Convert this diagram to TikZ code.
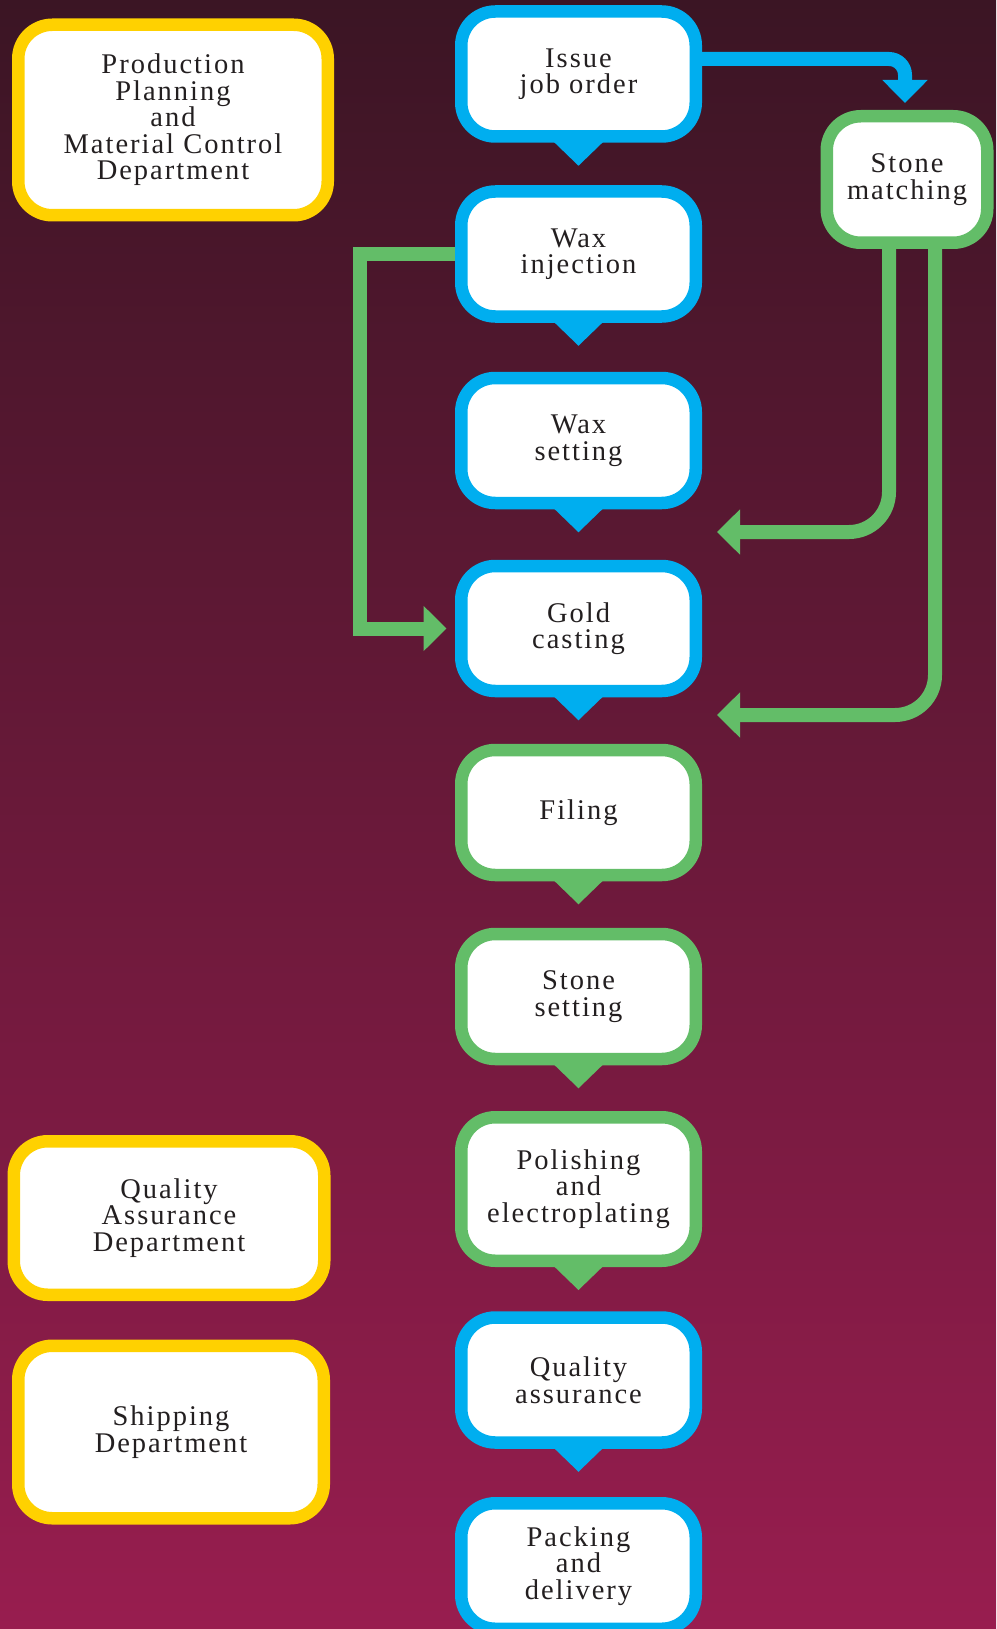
\documentclass[tikz,border=0pt]{standalone}
\usepackage{fontspec}
\setmainfont{Liberation Serif}[LetterSpace=7]
\usetikzlibrary{calc,arrows.meta}
\definecolor{bgtop}{RGB}{59,21,36}
\definecolor{bgbottom}{RGB}{152,29,79}
\definecolor{stepblue}{RGB}{0,174,239}
\definecolor{stepgreen}{RGB}{99,189,104}
\definecolor{deptyellow}{RGB}{255,209,0}
\definecolor{inkgray}{RGB}{35,31,32}

\tikzset{
  stepbox/.style={draw, fill=white, line width=12.5pt, rounded corners=34pt,
    minimum width=234.5pt, minimum height=125pt, inner sep=0pt, align=center,
    text=inkgray, font=\fontsize{28.5}{26.5}\selectfont},
  bluestep/.style={stepbox, draw=stepblue},
  greenstep/.style={stepbox, draw=stepgreen},
  deptbox/.style={stepbox, draw=deptyellow},
  flowline/.style={line width=14pt, -{Triangle[width=44pt,length=23pt]}}
}

\begin{document}
\begin{tikzpicture}[x=1pt,y=1pt]

% 1. BACKGROUND
\useasboundingbox (0,0) rectangle (996,-1629);
\shade[top color=bgtop, bottom color=bgbottom] (0,0) rectangle (996,-1629);

% 2. DEPARTMENTS
\node[deptbox, minimum width=309.5pt, minimum height=190.5pt] (ppmc) at (173,-120)
  {Production\\Planning\\and\\Material Control\\Department};
\node[deptbox, minimum width=310.5pt, minimum height=153.5pt] (qadept) at (169,-1218)
  {Quality\\Assurance\\Department};
\node[deptbox, minimum width=305.5pt, minimum height=172.5pt] (shipdept) at (171,-1432)
  {Shipping\\Department};

% 3. PROCESS STEPS
\node[bluestep] (issue) at (578.5,-74) {Issue\\job order};
\node[greenstep, minimum width=160.5pt, minimum height=126.5pt] (stone) at (907,-179.5) {Stone\\matching};
\node[bluestep] (waxinj) at (578.5,-254) {Wax\\injection};
\node[bluestep] (waxset) at (578.5,-440.5) {Wax\\setting};
\node[bluestep] (gold) at (578.5,-628.5) {Gold\\casting};
\node[greenstep] (filing) at (578.5,-812.5) {Filing};
\node[greenstep] (stoneset) at (578.5,-996.5) {Stone\\setting};
\node[greenstep, minimum height=143.5pt] (polish) at (578.5,-1189) {Polishing\\and\\electroplating};
\node[bluestep] (qa) at (578.5,-1380) {Quality\\assurance};
\node[bluestep, minimum height=125.5pt] (packing) at (578.5,-1566) {Packing\\and\\delivery};

% Pointers under the steps
\foreach \n/\c in {issue/stepblue, waxinj/stepblue, waxset/stepblue, gold/stepblue,
    filing/stepgreen, stoneset/stepgreen, polish/stepgreen, qa/stepblue} {
  \fill[\c] ($(\n.south)+(-30,6)$) -- ($(\n.south)+(0,-23)$) -- ($(\n.south)+(30,6)$) -- cycle;
}

% 4. CONNECTORS
\coordinate (backA) at (717,-532);
\coordinate (backB) at (717,-715);

\draw[flowline, stepblue, rounded corners=16pt, shorten >=7pt]
  ($(issue.east)+(0,15)$) -| ($(stone.north)+(-2,0)$);
\draw[flowline, stepgreen, shorten >=8.5pt]
  (waxinj.west) -- ++(-95,0) |- (gold.west);
\draw[flowline, stepgreen, rounded corners=40pt]
  ($(stone.south)+(-18,0)$) |- (backA);
\draw[flowline, stepgreen, rounded corners=40pt]
  ($(stone.south)+(28,0)$) |- (backB);

\end{tikzpicture}
\end{document}
